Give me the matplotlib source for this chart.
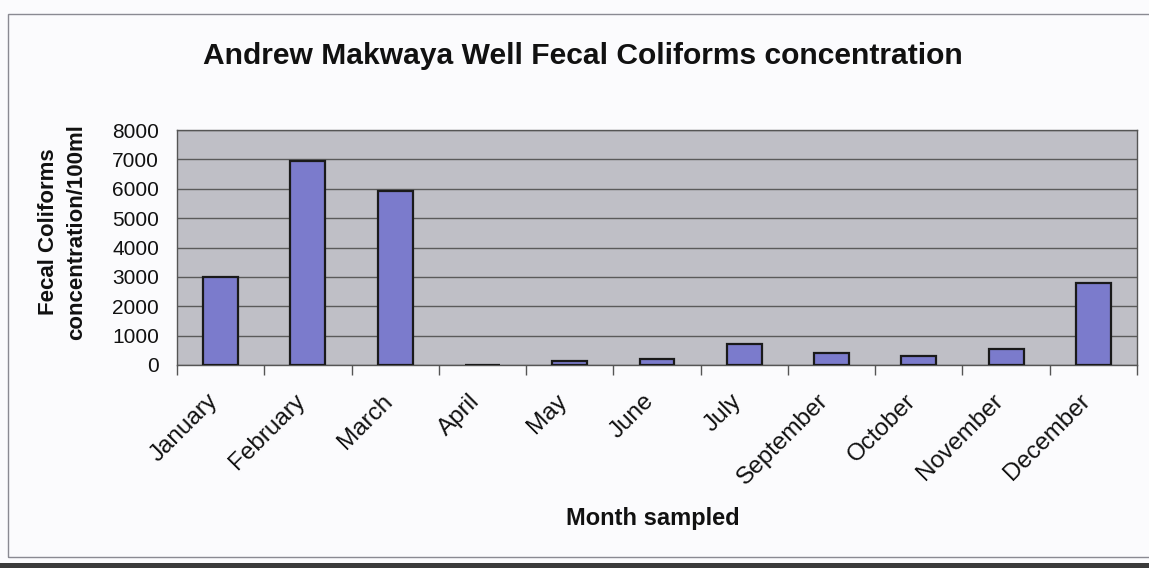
import matplotlib
matplotlib.use("Agg")
import matplotlib.pyplot as plt
from matplotlib.patches import Rectangle
from matplotlib.transforms import ScaledTranslation
import numpy as np

plt.rcParams['font.family'] = ['Liberation Sans', 'DejaVu Sans']

# monthly fecal coliform counts (per 100 ml)
months = ['January', 'February', 'March', 'April', 'May', 'June', 'July',
          'September', 'October', 'November', 'December']
counts = [3000, 6950, 5930, 0, 130, 200, 720, 400, 320, 530, 2800]
yticks = [0, 1000, 2000, 3000, 4000, 5000, 6000, 7000, 8000]

W, H = 1149, 568
fig = plt.figure(figsize=(W / 100, H / 100), dpi=100, facecolor='#fbfbfd')

# chart border
fig.patches.append(Rectangle((8 / W, 1 - 557 / H), 1.2, (557 - 14) / H,
                             transform=fig.transFigure, fill=False,
                             edgecolor='#8a8a92', lw=1.0))
fig.patches.append(Rectangle((0, 0), 1, 5 / H, transform=fig.transFigure,
                             facecolor='#3a3a3a', edgecolor='none'))

ax = fig.add_axes([177 / W, 1 - 365 / H, (1137 - 177) / W, (365 - 130) / H])
ax.set_facecolor('#bfbfc6')

x = np.arange(len(months))
ax.bar(x, counts, width=0.4, color='#7b7bcc', edgecolor='#1a1a1a',
       linewidth=1.6, zorder=3)

ax.set_xlim(-0.5, len(months) - 0.5)
ax.set_ylim(0, 8000)
ax.set_yticks(yticks)
ax.set_yticklabels([str(v) for v in yticks], fontsize=15)
ax.yaxis.grid(True, color='#5a5a5a', lw=1.0, zorder=1)
ax.tick_params(axis='y', length=0, pad=13, colors='#111111')

# category ticks sit between the bars
ax.set_xticks(np.arange(-0.5, len(months), 1.0), minor=False)
ax.set_xticklabels([])
ax.tick_params(axis='x', which='major', length=7, width=1, color='#555555',
               direction='out')
ax.set_xticks(x, minor=True)
ax.set_xticklabels(months, minor=True, rotation=45, ha='right',
                   rotation_mode='anchor', fontsize=17.5, color='#111111')
ax.tick_params(axis='x', which='minor', length=0, pad=18)
shift = ScaledTranslation(-14 / 100, 0, fig.dpi_scale_trans)
for lbl in ax.get_xticklabels(minor=True):
    lbl.set_transform(lbl.get_transform() + shift)

for side in ['left', 'bottom', 'top', 'right']:
    ax.spines[side].set_color('#555555')
    ax.spines[side].set_linewidth(1.0)

fig.text(583 / W, 1 - 56 / H,
         'Andrew Makwaya Well Fecal Coliforms concentration',
         ha='center', va='center', fontsize=21.6, fontweight='bold',
         color='#111111')
fig.text(653 / W, 1 - 518 / H, 'Month sampled', ha='center', va='center',
         fontsize=17, fontweight='bold', color='#111111')
fig.text(63 / W, 1 - 232 / H, 'Fecal Coliforms\nconcentration/100ml',
         ha='center', va='center', rotation=90, fontsize=16,
         fontweight='bold', color='#111111', linespacing=1.45)

fig.savefig('out.png', dpi=100, facecolor=fig.get_facecolor())
